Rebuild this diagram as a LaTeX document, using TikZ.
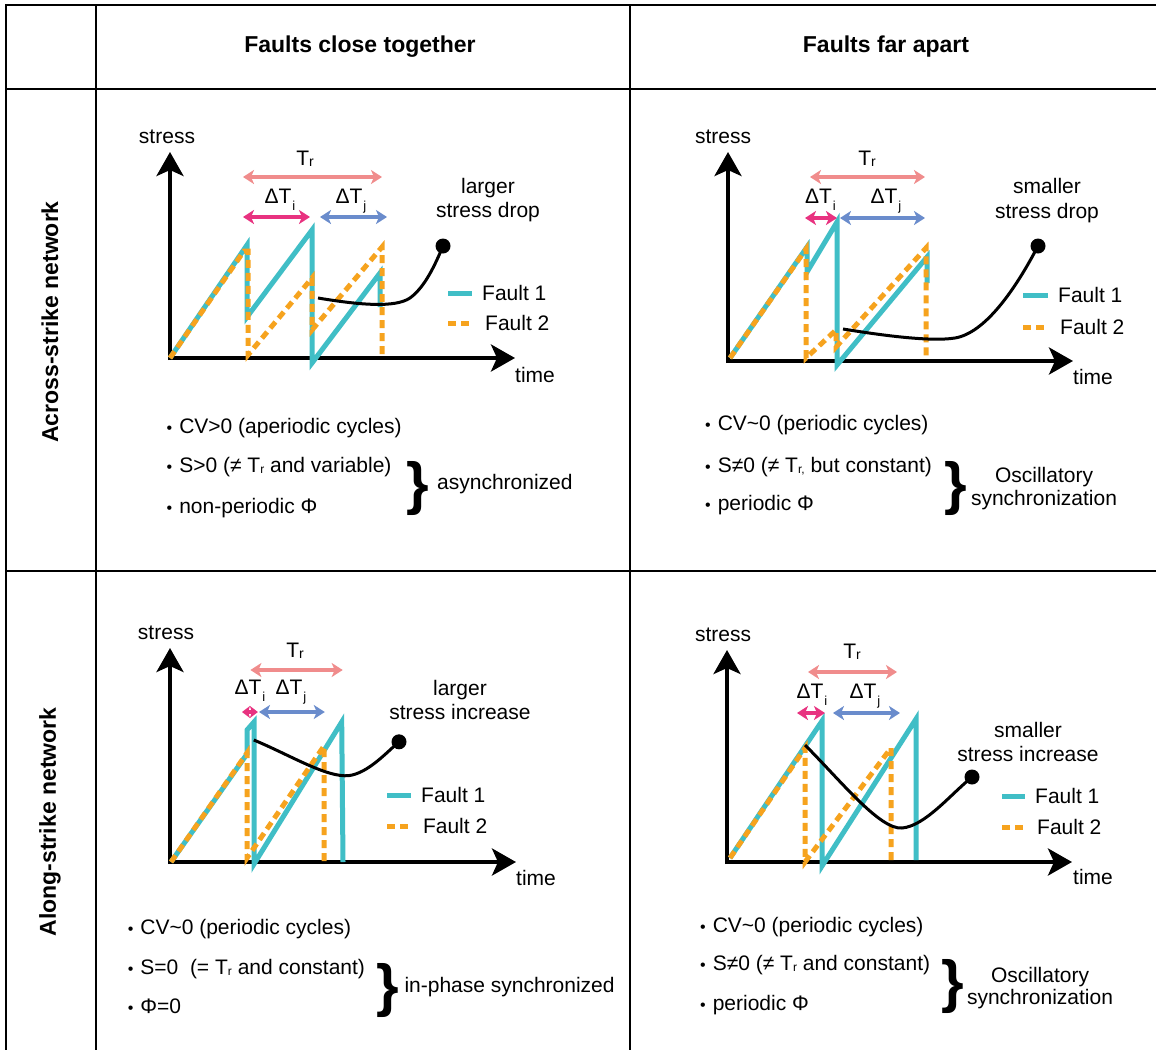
\documentclass[tikz,border=0pt]{standalone}
\usepackage{fontspec}
\setmainfont{Liberation Sans}
\usetikzlibrary{arrows.meta}
\definecolor{teal1}{RGB}{64,190,198}
\definecolor{orng}{RGB}{246,163,30}
\definecolor{salmon}{RGB}{240,140,140}
\definecolor{magen}{RGB}{232,50,128}
\definecolor{blu}{RGB}{106,140,204}
\newcommand{\rsub}[1]{\raisebox{-1pt}{\fontsize{14}{14}\selectfont #1}}
\newcommand{\isub}[1]{\hspace{1pt}\raisebox{-7pt}{\fontsize{13}{13}\selectfont #1}}
\newcommand{\tsub}[1]{\raisebox{-1pt}{\fontsize{12}{12}\selectfont #1}}
\newcommand{\bul}{{\fontsize{16}{16}\selectfont •}\hspace{7pt}}
\begin{document}
\begin{tikzpicture}[x=1pt,y=-1pt,
  tbl/.style={line width=2.5pt, black},
  axisline/.style={line width=4pt, -{Stealth[length=24pt,width=27pt,inset=6pt]}},
  fone/.style={draw=teal1, line width=5pt, line join=miter},
  ftwo/.style={draw=orng, line width=5pt, dash pattern=on 8pt off 5pt},
  blk/.style={line width=3pt},
  dimarrow/.style={line width=3.3pt, {Stealth[length=11pt,width=14pt,inset=3pt]}-{Stealth[length=11pt,width=14pt,inset=3pt]}},
  dimsmall/.style={line width=3.3pt, {Stealth[length=8pt,width=12pt,inset=2pt]}-{Stealth[length=8pt,width=12pt,inset=2pt]}},
  txt/.style={inner sep=0pt, font=\fontsize{21}{24}\selectfont},
  bold/.style={inner sep=0pt, font=\bfseries\fontsize{23}{25}\selectfont},
  brc/.style={inner sep=0pt, font=\bfseries\fontsize{58}{58}\selectfont},
]
\useasboundingbox (0,0) rectangle (1156,1050);
\fill[white] (0,0) rectangle (1156,1050);

% ---------- table ----------
\draw[tbl] (5,5) -- (1156,5);
\draw[tbl] (5,89) -- (1156,89);
\draw[tbl] (5,571) -- (1156,571);
\draw[tbl] (6,4) -- (6,1050);
\draw[tbl] (96,4) -- (96,1050);
\draw[tbl] (630,4) -- (630,1050);

\node[bold] (hclose) at (360,47) {Faults close together};
\node[bold] (hfar) at (886,47) {Faults far apart};
\node[bold, rotate=90] (racross) at (50,322) {Across-strike network};
\node[bold, rotate=90] (ralong) at (50,822) {Along-strike network};

% ---------- panel 1 ----------
\draw[axisline] (170,360) -- (170,152);
\draw[axisline] (168,358) -- (515,358);
\node[txt] (s1) at (167,137) {stress};
\node[txt] (t1) at (535,375) {time};
\draw[fone] (170,358) -- (247,245) -- (247,317) -- (312,230) -- (312,363) -- (380,273) -- (380,307);
\draw[ftwo] (170,358) -- (244,251) -- (248,251) -- (248,355) -- (312,278) -- (312,330) -- (382,247) -- (382,358);
\draw[blk] (318,298) .. controls (360,305) and (395,308) .. (410,298) .. controls (425,287) and (435,265) .. (443,246);
\fill (443,246) circle (7.5pt);
\draw[dimarrow, salmon] (243,177) -- (382,177);
\node[txt, anchor=base] (tr1) at (305,165) {T\rsub{r}};
\draw[dimarrow, magen] (243,217) -- (310,217);
\node[txt, anchor=base] (ti1) at (280,203) {ΔT\isub{i}};
\draw[dimarrow, blu] (320,217) -- (387,217);
\node[txt, anchor=base] (tj1) at (351,203) {ΔT\isub{j}};
\node[txt, align=center] (a1) at (488,200) {larger\\stress drop};
\draw[fone] (448,293) -- (472,293);
\node[txt, anchor=west] (l1a) at (482,293) {Fault 1};
\draw[ftwo] (448,323) -- (472,323);
\node[txt, anchor=west] (l1b) at (485,323) {Fault 2};
\node[txt, anchor=base west] (b1a) at (166.5,433) {\bul CV>0 (aperiodic cycles)};
\node[txt, anchor=base west] (b1b) at (166.5,472) {\bul S>0 (≠ T\tsub{r} and variable)};
\node[txt, anchor=base west] (b1c) at (166.5,513) {\bul non-periodic Φ};
\node[brc] (br1) at (417.5,488) {\}};
\node[txt, anchor=west] (c1) at (437,484.5) {asynchronized};

% ---------- panel 2 ----------
\draw[axisline] (728,363) -- (728,152);
\draw[axisline] (726,361) -- (1073,361);
\node[txt] (s2) at (723,137) {stress};
\node[txt] (t2) at (1093,377) {time};
\draw[fone] (730,358) -- (807,247) -- (807,272) -- (837,222) -- (837,365) -- (927,257) -- (927,283);
\draw[ftwo] (730,358) -- (806,249) -- (806,358) -- (836,330) -- (836,347) -- (926,248) -- (926,360);
\draw[blk] (843,329) .. controls (880,335) and (930,342) .. (955,338) .. controls (985,333) and (1015,290) .. (1038,246);
\fill (1038,246) circle (7.5pt);
\draw[dimarrow, salmon] (810,177) -- (925,177);
\node[txt, anchor=base] (tr2) at (867,165) {T\rsub{r}};
\draw[dimarrow, magen] (805,218) -- (837,218);
\node[txt, anchor=base] (ti2) at (820.5,203) {ΔT\isub{i}};
\draw[dimarrow, blu] (840,218) -- (925,218);
\node[txt, anchor=base] (tj2) at (886,203) {ΔT\isub{j}};
\node[txt, align=center, font=\fontsize{21}{25}\selectfont] (a2) at (1047,201) {smaller\\stress drop};
\draw[fone] (1023,295) -- (1048,295);
\node[txt, anchor=west] (l2a) at (1058,295) {Fault 1};
\draw[ftwo] (1023,327) -- (1048,327);
\node[txt, anchor=west] (l2b) at (1060,327) {Fault 2};
\node[txt, anchor=base west] (b2a) at (705,430.5) {\bul CV\textasciitilde 0 (periodic cycles)};
\node[txt, anchor=base west] (b2b) at (705,472.5) {\bul S≠0 (≠ T\tsub{r,} but constant)};
\node[txt, anchor=base west] (b2c) at (705,510.5) {\bul periodic Φ};
\node[brc] (br2) at (956,488) {\}};
\node[txt, align=center, font=\fontsize{21}{23.3}\selectfont] (c2) at (1044,488.3) {Oscillatory\\synchronization};

% ---------- panel 3 ----------
\draw[axisline] (170,864) -- (170,648);
\draw[axisline] (168,862) -- (516,862);
\node[txt] (s3) at (166,633) {stress};
\node[txt] (t3) at (536,878) {time};
\draw[fone] (171,862) -- (247,754) -- (247,730) -- (254,722) -- (254,864) -- (341.7,722) -- (343,862);
\draw[ftwo] (171,862) -- (247,753) -- (247,858) -- (324,746) -- (324,862);
\draw[blk] (253.8,740) .. controls (290,755) and (327,778) .. (349,775.6) .. controls (368,773) and (386,753) .. (399,741.8);
\fill (399,741.8) circle (7.5pt);
\draw[dimarrow, salmon] (250.4,670) -- (342.7,670);
\node[txt, anchor=base] (tr3) at (295,657.3) {T\rsub{r}};
\draw[dimsmall, magen] (242,712) -- (257.9,712);
\node[txt, anchor=base] (ti3) at (250,694.5) {ΔT\isub{i}};
\draw[dimarrow, blu] (259,712) -- (324.8,712);
\node[txt, anchor=base] (tj3) at (291,694.5) {ΔT\isub{j}};
\node[txt, align=center] (a3) at (460,700) {larger\\stress increase};
\draw[fone] (387.4,795) -- (411,795);
\node[txt, anchor=west] (l3a) at (421,795) {Fault 1};
\draw[ftwo] (387.4,826.4) -- (411,826.4);
\node[txt, anchor=west] (l3b) at (422.8,826.4) {Fault 2};
\node[txt, anchor=base west] (b3a) at (127.6,934.2) {\bul CV\textasciitilde 0 (periodic cycles)};
\node[txt, anchor=base west] (b3b) at (127.6,974.8) {\bul S=0\ \ (= T\tsub{r} and constant)};
\node[txt, anchor=base west] (b3c) at (127.6,1013.7) {\bul Φ=0};
\node[brc] (br3) at (387.5,990.3) {\}};
\node[txt, anchor=west] (c3) at (404.3,987.2) {in-phase synchronized};

% ---------- panel 4 ----------
\draw[axisline] (727,864) -- (727,650);
\draw[axisline] (725,862) -- (1072,862);
\node[txt] (s4) at (723,635) {stress};
\node[txt] (t4) at (1093,877) {time};
\draw[fone] (730,858) -- (822,721) -- (822,866) -- (916,719) -- (916,860);
\draw[ftwo] (730,858) -- (805,748) -- (805,862) -- (891,748) -- (891,860);
\draw[blk] (805,745) .. controls (840,780) and (880,830) .. (902,828) .. controls (925,826) and (950,795) .. (972,777);
\fill (972,777) circle (7.5pt);
\draw[dimarrow, salmon] (808,672) -- (897,672);
\node[txt, anchor=base] (tr4) at (852,658.3) {T\rsub{r}};
\draw[dimarrow, magen] (797,713) -- (825,713);
\node[txt, anchor=base] (ti4) at (812,698.3) {ΔT\isub{i}};
\draw[dimarrow, blu] (833,713) -- (900,713);
\node[txt, anchor=base] (tj4) at (865,698.3) {ΔT\isub{j}};
\node[txt, align=center, font=\fontsize{21}{23.5}\selectfont] (a4) at (1028,742) {smaller\\stress increase};
\draw[fone] (1002,796) -- (1025,796);
\node[txt, anchor=west] (l4a) at (1035,796) {Fault 1};
\draw[ftwo] (1002,827) -- (1025,827);
\node[txt, anchor=west] (l4b) at (1037,827) {Fault 2};
\node[txt, anchor=base west] (b4a) at (700,932.5) {\bul CV\textasciitilde 0 (periodic cycles)};
\node[txt, anchor=base west] (b4b) at (700,970.5) {\bul S≠0 (≠ T\tsub{r} and constant)};
\node[txt, anchor=base west] (b4c) at (700,1010.5) {\bul periodic Φ};
\node[brc] (br4) at (953,986) {\}};
\node[txt, align=center, font=\fontsize{21}{22.3}\selectfont] (c4) at (1040,988) {Oscillatory\\synchronization};
\end{tikzpicture}
\end{document}
